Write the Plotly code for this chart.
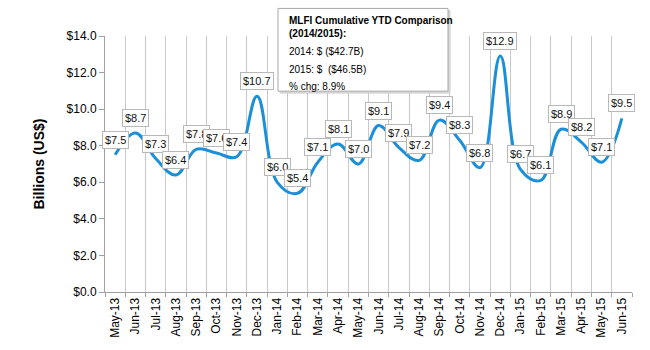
import plotly.graph_objects as go

months = ["May-13", "Jun-13", "Jul-13", "Aug-13", "Sep-13", "Oct-13", "Nov-13", "Dec-13",
          "Jan-14", "Feb-14", "Mar-14", "Apr-14", "May-14", "Jun-14", "Jul-14", "Aug-14",
          "Sep-14", "Oct-14", "Nov-14", "Dec-14", "Jan-15", "Feb-15", "Mar-15", "Apr-15",
          "May-15", "Jun-15"]
values = [7.5, 8.7, 7.3, 6.4, 7.8, 7.6, 7.4, 10.7, 6.0, 5.4, 7.1, 8.1, 7.0, 9.1, 7.9, 7.2,
          9.4, 8.3, 6.8, 12.9, 6.7, 6.1, 8.9, 8.2, 7.1, 9.5]

box_lines = ["<b>MLFI Cumulative YTD Comparison</b>", "<b>(2014/2015):</b>",
             "2014: $ ($42.7B)", "2015: $  ($46.5B)", "% chg: 8.9%"]

fig = go.Figure()
fig.add_trace(go.Scatter(x=months, y=values, mode="lines",
                         line=dict(color="#1B8FD8", width=3, shape="spline", smoothing=1.1),
                         hoverinfo="skip", showlegend=False))

annotations = []
for i, (m, v) in enumerate(zip(months, values)):
    annotations.append(dict(x=m, y=v, xref="x", yref="y", text=f"${v:.1f}", showarrow=False,
                            yshift=15,
                            font=dict(family="Liberation Sans, Arial", size=11, color="#111"),
                            bgcolor="white", bordercolor="#b8b8b8", borderwidth=1, borderpad=2))

# info box
plot_h = 260
def py(px):
    return (296 - px) / plot_h
line_y = [20, 33, 52, 70, 87]
for t, ypix in zip(box_lines, line_y):
    annotations.append(dict(x=(287 - 105) / 527, y=py(ypix), xref="paper", yref="paper",
                            xanchor="left", yanchor="middle", text=t, showarrow=False,
                            font=dict(family="Liberation Sans, Arial", size=10, color="#000")))

shapes = [
    dict(type="rect", xref="paper", yref="paper", x0=(280 - 105) / 527, x1=(450 - 105) / 527,
         y0=py(94), y1=py(10), line=dict(color="#d0d0d0", width=1), fillcolor="#d8d8d8", layer="above"),
    dict(type="rect", xref="paper", yref="paper", x0=(278 - 105) / 527, x1=(448 - 105) / 527,
         y0=py(92), y1=py(8), line=dict(color="#a8a8a8", width=1), fillcolor="white", layer="above"),
]

fig.update_layout(
    width=650, height=350, margin=dict(l=105, r=18, t=36, b=54),
    paper_bgcolor="white", plot_bgcolor="white",
    annotations=annotations, shapes=shapes,
    xaxis=dict(type="category", range=[-0.5, 25.5], tickson="boundaries", showgrid=True,
               gridcolor="#c8c8c8", gridwidth=1, showline=True, linecolor="#a0a0a0",
               ticks="outside", ticklen=4, tickcolor="#a0a0a0", tickangle=-90,
               tickfont=dict(family="Liberation Sans, Arial", size=12, color="#000"), fixedrange=True),
    yaxis=dict(range=[0, 14], dtick=2, tickprefix="$", tickformat=".1f", showgrid=False,
               zeroline=False, showline=True, linecolor="#a0a0a0", ticks="outside", ticklen=5,
               tickcolor="#a0a0a0",
               tickfont=dict(family="Liberation Sans, Arial", size=12, color="#000"),
               title=dict(text="<b>Billions (US$)</b>", standoff=18,
                          font=dict(family="Liberation Sans, Arial", size=14, color="#000")),
               fixedrange=True),
)
fig.write_html("out.html")
